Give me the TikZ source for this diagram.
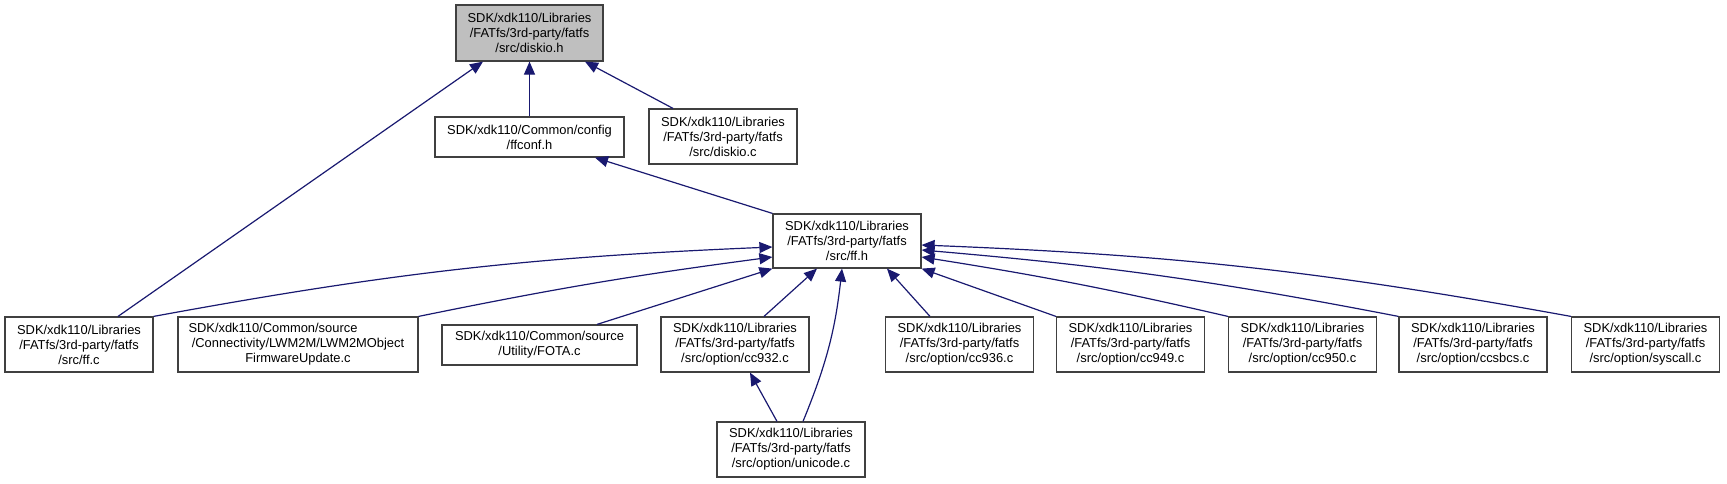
\documentclass[tikz,border=0pt]{standalone}
\usepackage{fontspec}
\usepackage{xcolor}
\setmainfont{Liberation Sans}
\usetikzlibrary{arrows.meta}
\definecolor{edgeblue}{HTML}{191970}

\begin{document}
\begin{tikzpicture}[x=1pt,y=-1pt,
    file/.style={draw=black!75, line width=1.2pt, fill=white, align=center, inner sep=0pt,
        font=\fontsize{12.9}{15}\selectfont, minimum width=148pt, minimum height=55pt},
    cur/.style={file, fill=black!25},
    dep/.style={draw=edgeblue, line width=1.2pt, -{Triangle[length=13pt,width=11pt]}}]
    \useasboundingbox (0,0) rectangle (1727,483);
    % top part
    \node[cur, minimum width=147pt, minimum height=56pt] (diskioh) at (529.5,33) {SDK/xdk110/Libraries\\/FATfs/3rd-party/fatfs\\/src/diskio.h};
    \node[file, minimum width=189pt, minimum height=40pt] (ffconf) at (529.5,137) {SDK/xdk110/Common/config\\/ffconf.h};
    \node[file] (diskioc) at (723,136.5) {SDK/xdk110/Libraries\\/FATfs/3rd-party/fatfs\\/src/diskio.c};
    \node[file, minimum height=54pt] (ffh) at (847,241) {SDK/xdk110/Libraries\\/FATfs/3rd-party/fatfs\\/src/ff.h};
    % bottom row
    \node[file] (ffc) at (79,344.5) {SDK/xdk110/Libraries\\/FATfs/3rd-party/fatfs\\/src/ff.c};
    \node[file, minimum width=240pt] (lwm) at (298,344.5) {\makebox[219pt][l]{SDK/xdk110/Common/source}\\/Connectivity/LWM2M/LWM2MObject\\FirmwareUpdate.c};
    \node[file, minimum width=195pt, minimum height=40pt] (fota) at (539.5,345) {SDK/xdk110/Common/source\\/Utility/FOTA.c};
    \node[file] (cc932) at (735,344.5) {SDK/xdk110/Libraries\\/FATfs/3rd-party/fatfs\\/src/option/cc932.c};
    \node[file] (unicode) at (791,449.5) {SDK/xdk110/Libraries\\/FATfs/3rd-party/fatfs\\/src/option/unicode.c};
    \node[file] (cc936) at (959.5,344.5) {SDK/xdk110/Libraries\\/FATfs/3rd-party/fatfs\\/src/option/cc936.c};
    \node[file] (cc949) at (1130.5,344.5) {SDK/xdk110/Libraries\\/FATfs/3rd-party/fatfs\\/src/option/cc949.c};
    \node[file] (cc950) at (1302.5,344.5) {SDK/xdk110/Libraries\\/FATfs/3rd-party/fatfs\\/src/option/cc950.c};
    \node[file] (ccsbcs) at (1473,344.5) {SDK/xdk110/Libraries\\/FATfs/3rd-party/fatfs\\/src/option/ccsbcs.c};
    \node[file] (syscall) at (1645.5,344.5) {SDK/xdk110/Libraries\\/FATfs/3rd-party/fatfs\\/src/option/syscall.c};
    % includes
    \draw[dep] ([xshift=39pt]ffc.north) -- ([xshift=-46.5pt]diskioh.south);
    \draw[dep] (ffconf.north) -- (diskioh.south);
    \draw[dep] ([xshift=-50pt]diskioc.north) -- ([xshift=55.5pt]diskioh.south);
    \draw[dep] (ffh.north west) -- ([xshift=65.5pt]ffconf.south);
    \draw[dep] (ffc.north east) to[bend left=4] ([yshift=-6pt]ffh.west);
    \draw[dep] (lwm.north east) to[bend left=2] ([yshift=-16pt]ffh.west);
    \draw[dep] ([xshift=57.5pt]fota.north) -- (ffh.south west);
    \draw[dep] ([xshift=29pt]cc932.north) -- ([xshift=-30pt]ffh.south);
    \draw[dep] ([xshift=12pt]unicode.north) to[bend right=8] ([xshift=-5pt]ffh.south);
    \draw[dep] ([xshift=-14pt]unicode.north) -- ([xshift=15pt]cc932.south);
    \draw[dep] ([xshift=-29.5pt]cc936.north) -- ([xshift=40pt]ffh.south);
    \draw[dep] (cc949.north west) -- (ffh.south east);
    \draw[dep] (cc950.north west) to[bend right=2] ([yshift=-16pt]ffh.east);
    \draw[dep] (ccsbcs.north west) to[bend right=3] ([yshift=-9pt]ffh.east);
    \draw[dep] (syscall.north west) to[bend right=4] ([yshift=-4pt]ffh.east);
\end{tikzpicture}
\end{document}
